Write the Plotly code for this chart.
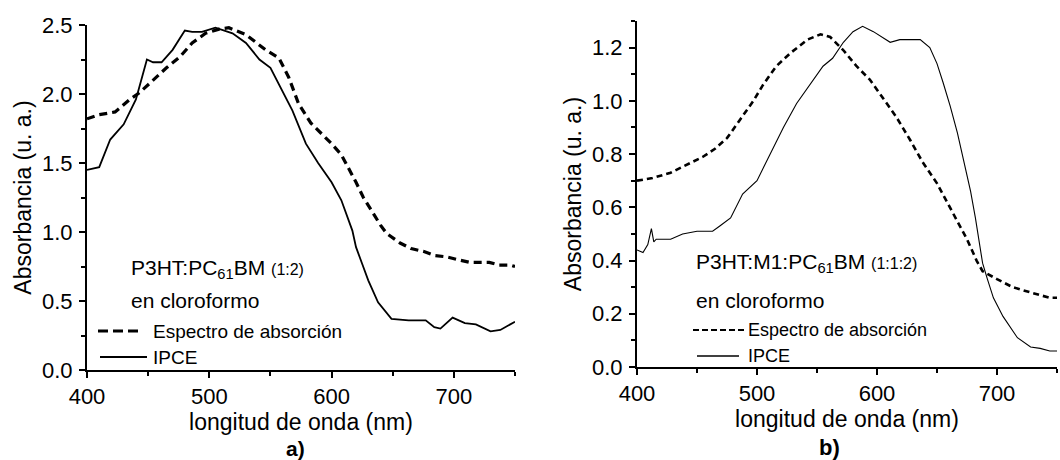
import plotly.graph_objects as go
from plotly.subplots import make_subplots

# ---- panel a) P3HT:PC61BM (1:2) ----
abs_a_x = [400, 410, 423, 435, 443, 454, 465, 476, 486, 497, 508, 516, 530, 546, 557,
           565, 573, 583, 591, 600, 608, 615, 620, 626, 632, 640, 645, 656, 665, 675,
           684, 694, 703, 713, 721, 729, 737, 746, 750]
abs_a_y = [1.82, 1.85, 1.87, 1.96, 2.01, 2.10, 2.19, 2.27, 2.37, 2.44, 2.47, 2.48, 2.43, 2.32, 2.26,
           2.12, 1.93, 1.79, 1.72, 1.64, 1.56, 1.45, 1.36, 1.25, 1.16, 1.05, 0.99, 0.92, 0.88, 0.86,
           0.83, 0.82, 0.80, 0.78, 0.78, 0.78, 0.76, 0.76, 0.75]

ipce_a_x = [400, 410, 419, 430, 440, 449, 454, 461, 470, 480, 486, 494, 505, 519, 530,
            541, 550, 559, 568, 579, 589, 600, 608, 617, 620, 625, 630, 638, 649, 663,
            677, 684, 689, 699, 709, 718, 730, 738, 748, 750]
ipce_a_y = [1.45, 1.47, 1.67, 1.78, 1.96, 2.25, 2.23, 2.23, 2.32, 2.46, 2.45, 2.45, 2.48, 2.44, 2.37,
            2.25, 2.19, 2.03, 1.88, 1.64, 1.50, 1.36, 1.23, 1.01, 0.89, 0.77, 0.65, 0.49, 0.37, 0.36,
            0.36, 0.31, 0.30, 0.38, 0.34, 0.33, 0.28, 0.29, 0.34, 0.35]

# ---- panel b) P3HT:M1:PC61BM (1:1:2) ----
abs_b_x = [400, 413, 428, 441, 455, 465, 475, 486, 497, 505, 516, 528, 542, 553, 561,
           572, 583, 594, 605, 616, 628, 638, 650, 661, 669, 675, 683, 688, 700, 713,
           728, 744, 750]
abs_b_y = [0.70, 0.71, 0.73, 0.76, 0.79, 0.82, 0.86, 0.93, 1.00, 1.06, 1.13, 1.18, 1.23, 1.25, 1.24,
           1.19, 1.13, 1.08, 1.01, 0.94, 0.85, 0.77, 0.69, 0.60, 0.53, 0.48, 0.40, 0.36, 0.33, 0.30,
           0.28, 0.26, 0.26]

ipce_b_x = [400, 405, 409, 411, 412, 414, 416, 428, 438, 450, 455, 463, 469, 478, 488,
            500, 511, 522, 533, 544, 555, 563, 572, 580, 588, 597, 611, 619, 628, 636,
            644, 650, 655, 661, 667, 672, 678, 682, 688, 692, 697, 705, 717, 728, 736,
            744, 750]
ipce_b_y = [0.44, 0.43, 0.46, 0.50, 0.52, 0.47, 0.48, 0.48, 0.50, 0.51, 0.51, 0.51, 0.53, 0.56, 0.65,
            0.70, 0.80, 0.90, 0.99, 1.06, 1.13, 1.16, 1.22, 1.26, 1.28, 1.26, 1.22, 1.23, 1.23, 1.23,
            1.20, 1.14, 1.07, 0.98, 0.88, 0.78, 0.66, 0.56, 0.39, 0.33, 0.26, 0.19, 0.11, 0.075, 0.07,
            0.06, 0.06]

x_ticks = [400, 500, 600, 700]
y_ticks_a = [0.0, 0.5, 1.0, 1.5, 2.0, 2.5]
y_ticks_b = [0.0, 0.2, 0.4, 0.6, 0.8, 1.0, 1.2]

FONT = "Liberation Sans, Arial, sans-serif"
W, H = 1060, 460


def px(x):
    return x / W


def py(y):
    return 1 - y / H


fig = make_subplots(rows=1, cols=2)

fig.add_trace(go.Scatter(x=abs_a_x, y=abs_a_y, mode="lines",
                         line=dict(color="black", width=3.2, dash="8px,5px"),
                         showlegend=False), row=1, col=1)
fig.add_trace(go.Scatter(x=ipce_a_x, y=ipce_a_y, mode="lines",
                         line=dict(color="black", width=1.8),
                         showlegend=False), row=1, col=1)
fig.add_trace(go.Scatter(x=abs_b_x, y=abs_b_y, mode="lines",
                         line=dict(color="black", width=2.6, dash="6px,4px"),
                         showlegend=False), row=1, col=2)
fig.add_trace(go.Scatter(x=ipce_b_x, y=ipce_b_y, mode="lines",
                         line=dict(color="black", width=1.1),
                         showlegend=False), row=1, col=2)

axis_common = dict(showline=True, linecolor="black", linewidth=2,
                   ticks="outside", ticklen=6, tickwidth=2, tickcolor="black",
                   showgrid=False, zeroline=False, automargin=False,
                   tickfont=dict(family=FONT, size=22, color="black"),
                   title_font=dict(family=FONT, size=23, color="black"))

fig.update_xaxes(**axis_common, ticklabelstandoff=0)
fig.update_yaxes(**axis_common, ticklabelstandoff=2)

minor_x = dict(dtick=50, tick0=400, ticks="outside", ticklen=4, tickwidth=1.5, tickcolor="black")

fig.update_layout(
    xaxis=dict(domain=[px(87), px(515)], range=[400, 750], tickvals=x_ticks,
               minor=minor_x,
               title=dict(text="longitud de onda (nm)", standoff=3)),
    yaxis=dict(domain=[py(370), py(25)], range=[0, 2.5], tickvals=y_ticks_a,
               tickformat=".1f",
               minor=dict(dtick=0.25, tick0=0, ticks="outside", ticklen=4, tickwidth=1.5,
                          tickcolor="black"),
               title=dict(text="Absorbancia (u. a.)", standoff=4)),
    xaxis2=dict(domain=[px(637), px(1057)], range=[400, 750], tickvals=x_ticks,
                minor=minor_x,
                title=dict(text="longitud de onda (nm)", standoff=3)),
    yaxis2=dict(domain=[py(367), py(21)], range=[0, 1.3], tickvals=y_ticks_b,
                tickformat=".1f",
                minor=dict(dtick=0.1, tick0=0, ticks="outside", ticklen=4, tickwidth=1.5,
                           tickcolor="black"),
                title=dict(text="Absorbancia (u. a.)", standoff=4)),
    width=W, height=H,
    margin=dict(l=0, r=0, t=0, b=0),
    plot_bgcolor="white", paper_bgcolor="white",
    font=dict(family=FONT, color="black"),
)


def label(x, y, text, size, bold=False):
    if bold:
        text = "<b>" + text + "</b>"
    fig.add_annotation(x=px(x), y=py(y), xref="paper", yref="paper",
                       xanchor="left", yanchor="middle", showarrow=False,
                       text=text, font=dict(family=FONT, size=size, color="black"))


def key_line(x0, x1, y, width, dash):
    fig.add_shape(type="line", xref="paper", yref="paper",
                  x0=px(x0), x1=px(x1), y0=py(y), y1=py(y),
                  line=dict(color="black", width=width, dash=dash))


# key block, panel a
label(129, 269, "P3HT:PC<sub>61</sub>BM <span style='font-size:16px'>(1:2)</span>", 21)
label(129, 300, "en cloroformo", 21)
key_line(98, 141, 331, 3.2, "10px,5px")
label(151, 331, "Espectro de absorción", 19)
key_line(100, 147, 357, 1.8, "solid")
label(151, 357, "IPCE", 19)

# key block, panel b
label(694, 263, "P3HT:M1:PC<sub>61</sub>BM <span style='font-size:16px'>(1:1:2)</span>", 21)
label(694, 300, "en cloroformo", 21)
key_line(693, 745, 330, 2.0, "6px,3px")
label(746, 330, "Espectro de absorción", 18)
key_line(697, 739, 356, 1.4, "solid")
label(746, 356, "IPCE", 18)

# panel captions, hung from their top edge below the axis titles
fig.add_annotation(x=px(285), y=py(436), xref="paper", yref="paper", showarrow=False,
                   yanchor="top", borderpad=0,
                   text="<b>a)</b>", font=dict(family=FONT, size=21, color="black"))
fig.add_annotation(x=px(841), y=py(434), xref="paper", yref="paper", showarrow=False,
                   yanchor="top", borderpad=0,
                   text="<b>b)</b>", font=dict(family=FONT, size=22, color="black"))

fig.write_html("out.html")
